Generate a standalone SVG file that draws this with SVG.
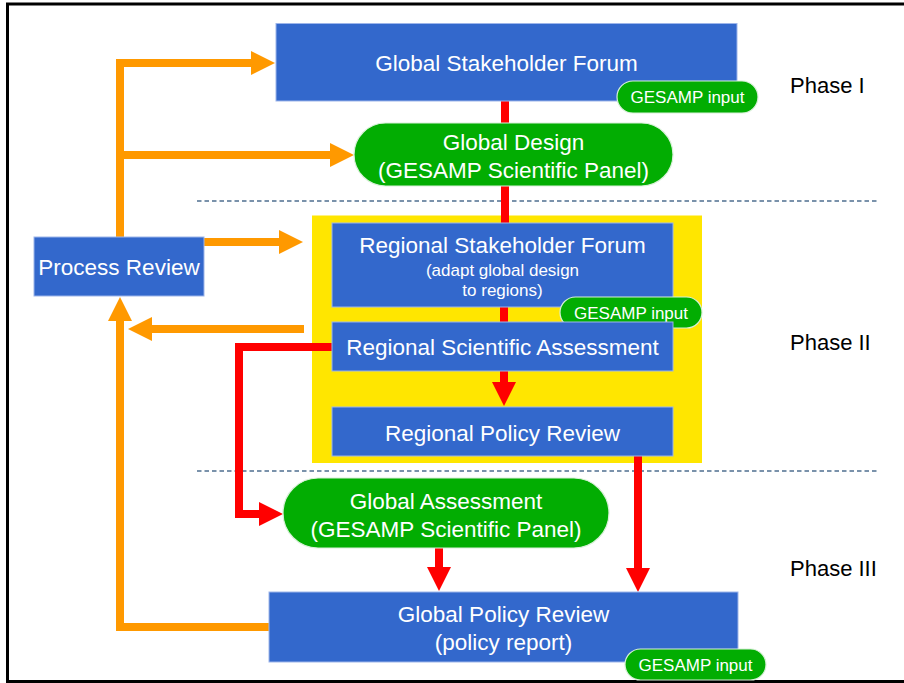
<svg xmlns="http://www.w3.org/2000/svg" width="904" height="683" viewBox="0 0 904 683">
<defs>
<style>
.box{fill:#3368CC;stroke:#9db5ea;stroke-width:1}
.pill{fill:#02AD02;stroke:#d8f0d8;stroke-width:1.2}
.t{font-family:"Liberation Sans",Arial,sans-serif;fill:#ffffff;text-anchor:middle}
.big{font-size:22.5px}
.sm{font-size:17px}
.ph{font-family:"Liberation Sans",Arial,sans-serif;font-size:22px;fill:#000000}
.or{fill:none;stroke:#FF9900;stroke-width:8;stroke-linejoin:miter}
.rd{fill:none;stroke:#FF0000;stroke-width:8;stroke-linejoin:miter}
.dash{stroke:#4f6f90;stroke-width:1.5;stroke-dasharray:4.5 3}
</style>
<marker id="ho" markerUnits="userSpaceOnUse" markerWidth="24" markerHeight="24" refX="12" refY="12" orient="auto" viewBox="0 0 24 24">
<path d="M0,0 L24,12 L0,24 z" fill="#FF9900"/>
</marker>
<marker id="hr" markerUnits="userSpaceOnUse" markerWidth="24" markerHeight="24" refX="12" refY="12" orient="auto" viewBox="0 0 24 24">
<path d="M0,0 L24,12 L0,24 z" fill="#FF0000"/>
</marker>
</defs>
<rect x="0" y="0" width="904" height="683" fill="#ffffff"/>
<rect x="7.5" y="4" width="1000" height="677.5" fill="none" stroke="#000000" stroke-width="3"/>

<line class="dash" x1="197" y1="201" x2="878" y2="201"/>
<line class="dash" x1="197" y1="471" x2="878" y2="471"/>

<g id="regional-phase">
<rect x="312" y="215.5" width="390" height="247.5" fill="#FFE600"/>
</g>

<g id="connectors">
<path class="rd" d="M505,101 V223"/>
<path class="rd" d="M504,307 V322"/>
<path class="rd" d="M504,371 V394" marker-end="url(#hr)"/>
<path class="rd" d="M332,347 H239 V514 H271" marker-end="url(#hr)"/>
<path class="rd" d="M638,456 V580" marker-end="url(#hr)"/>
<path class="rd" d="M439,548 V579" marker-end="url(#hr)"/>
<path class="or" d="M120,237 V63 H263" marker-end="url(#ho)"/>
<path class="or" d="M120,155 H342" marker-end="url(#ho)"/>
<path class="or" d="M204,242 H291" marker-end="url(#ho)"/>
<path class="or" d="M304,329 H140" marker-end="url(#ho)"/>
<path class="or" d="M269,627 H120 V309" marker-end="url(#ho)"/>
</g>

<g id="global-stakeholder-forum">
<rect class="box" x="276" y="23.5" width="461" height="77.5"/>
<text class="t big" x="506.5" y="71">Global Stakeholder Forum</text>
</g>
<g id="gesamp-input-1">
<rect class="pill" x="617" y="81" width="141" height="32" rx="16"/>
<text class="t sm" x="687.5" y="103">GESAMP input</text>
</g>
<g id="global-design">
<rect class="pill" x="354" y="123" width="319" height="63" rx="31.5"/>
<text class="t big" x="513.5" y="150">Global Design</text>
<text class="t big" x="513.5" y="178">(GESAMP Scientific Panel)</text>
</g>
<g id="process-review">
<rect class="box" x="34" y="237" width="170" height="59"/>
<text class="t big" x="119" y="275">Process Review</text>
</g>
<g id="regional-stakeholder-forum">
<rect class="box" x="332" y="223" width="341" height="84"/>
<text class="t big" x="502.5" y="253">Regional Stakeholder Forum</text>
<text class="t sm" x="502.5" y="276">(adapt global design</text>
<text class="t sm" x="502.5" y="296">to regions)</text>
</g>
<g id="gesamp-input-2">
<rect class="pill" x="560" y="297" width="142" height="31" rx="15.5"/>
<text class="t sm" x="631" y="318.5">GESAMP input</text>
</g>
<g id="regional-scientific-assessment">
<rect class="box" x="332" y="322" width="341" height="49"/>
<text class="t big" x="502.5" y="355">Regional Scientific Assessment</text>
</g>
<g id="regional-policy-review">
<rect class="box" x="332" y="407" width="341" height="49"/>
<text class="t big" x="502.5" y="441">Regional Policy Review</text>
</g>
<g id="global-assessment">
<rect class="pill" x="283" y="478" width="326" height="70" rx="35"/>
<text class="t big" x="446" y="509">Global Assessment</text>
<text class="t big" x="446" y="537">(GESAMP Scientific Panel)</text>
</g>
<g id="global-policy-review">
<rect class="box" x="269" y="592" width="469" height="70"/>
<text class="t big" x="503.5" y="622">Global Policy Review</text>
<text class="t big" x="503.5" y="650">(policy report)</text>
</g>
<g id="gesamp-input-3">
<rect class="pill" x="625" y="649" width="141" height="31" rx="15.5"/>
<text class="t sm" x="695.5" y="670.5">GESAMP input</text>
</g>

<g id="phase-labels">
<text class="ph" x="790" y="93">Phase I</text>
<text class="ph" x="790" y="350">Phase II</text>
<text class="ph" x="790" y="576">Phase III</text>
</g>
</svg>
